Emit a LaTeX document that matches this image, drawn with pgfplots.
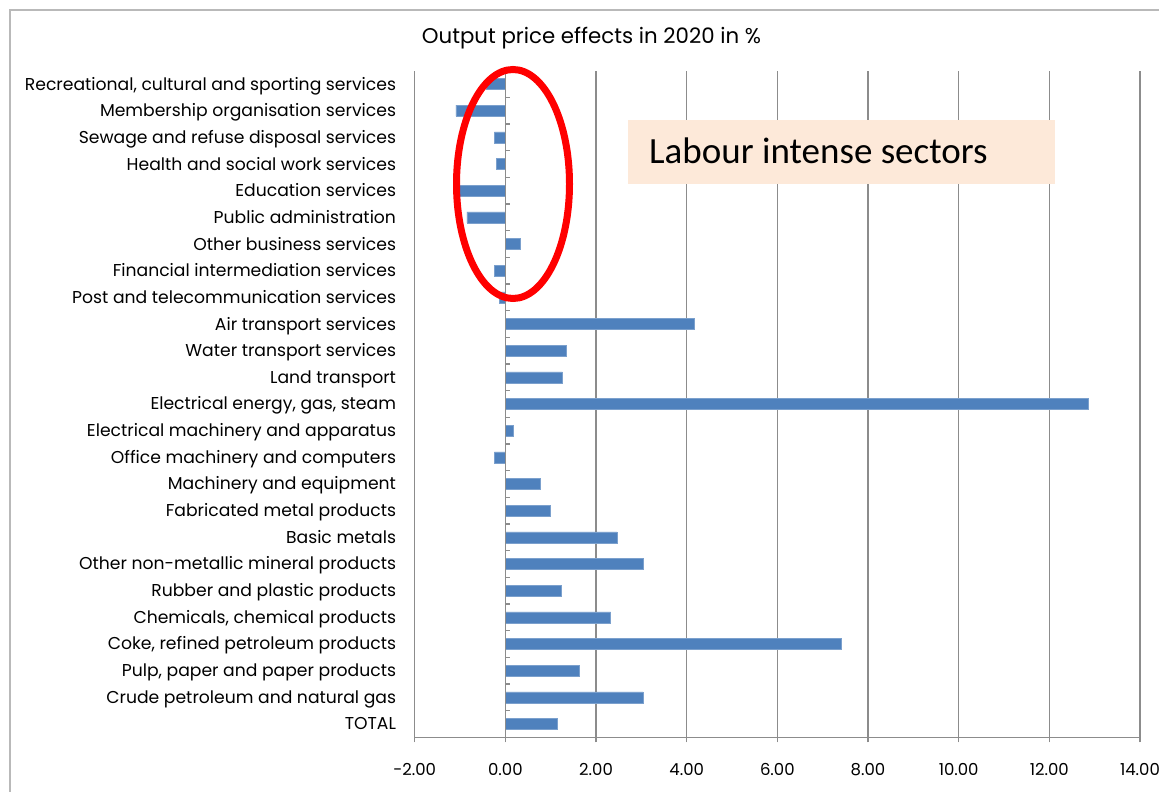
\documentclass[border=0pt]{standalone}
\usepackage{pgfplots}
\pgfplotsset{compat=1.18}
\usepackage{fontspec}
\setmainfont{Poppins}
\newfontfamily\calibri{Carlito}
\definecolor{barblue}{HTML}{4F81BD}
\definecolor{gridgray}{HTML}{8C8C8C}
\definecolor{peach}{HTML}{FDE9D9}
\begin{document}
\begin{tikzpicture}[x=1pt,y=1pt]
\useasboundingbox (0,0) rectangle (1159,792);
\fill[white] (0,0) rectangle (1159,792);
\draw[gray!55, line width=1.5pt] (10,-5) -- (10,782) -- (1170,782);
\begin{axis}[
  at={(414.7pt,54.7pt)}, anchor=south west,
  scale only axis, width=725.3pt, height=666.6pt,
  xmin=-2, xmax=14, ymin=-0.5, ymax=24.5,
  xbar, bar width=11pt,
  axis x line*=bottom, axis y line*=left,
  y axis line style={draw=none},
  xtick={-2,0,2,4,6,8,10,12,14},
  xticklabels={-2.00,0.00,2.00,4.00,6.00,8.00,10.00,12.00,14.00},
  xmajorgrids, major grid style={gridgray, line width=1.2pt},
  x axis line style={gridgray, line width=1.2pt},
  xtick style={gridgray, line width=1.2pt}, tick align=outside, major tick length=5pt,
  ytick={0,...,24}, ytick style={draw=none},
  yticklabels={TOTAL,
    Crude petroleum and natural gas,
    {Pulp, paper and paper products},
    {Coke, refined petroleum products},
    {Chemicals, chemical products},
    Rubber and plastic products,
    Other non-metallic mineral products,
    Basic metals,
    Fabricated metal products,
    Machinery and equipment\ ,
    Office machinery and computers,
    Electrical machinery and apparatus\ ,
    {Electrical energy, gas, steam\ },
    Land transport,
    Water transport services,
    Air transport services,
    Post and telecommunication services,
    Financial intermediation services,
    Other business services,
    Public administration\ ,
    Education services,
    Health and social work services,
    Sewage and refuse disposal services,
    Membership organisation services,
    {Recreational, cultural and sporting services}},
  yticklabel style={anchor=base east, inner sep=0pt, xshift=-13.5pt, yshift=-6pt, font=\fontsize{17.2}{20}\selectfont},
  xticklabel style={anchor=base, inner sep=0pt, yshift=-33pt, font=\fontsize{16.5}{19}\selectfont},
  clip=false,
]
\addplot[fill=barblue, draw=barblue!75!white, line width=0.6pt] coordinates {
(1.14,0) (3.04,1) (1.62,2) (7.42,3) (2.32,4) (1.23,5) (3.04,6) (2.46,7)
(1.00,8) (0.78,9) (-0.24,10) (0.18,11) (12.87,12) (1.26,13) (1.35,14) (4.16,15)
(-0.13,16) (-0.24,17) (0.32,18) (-0.85,19) (-1.01,20) (-0.19,21) (-0.24,22) (-1.09,23) (-0.42,24)
};
\draw[gridgray, line width=1.2pt] (axis cs:0,-0.5) -- (axis cs:0,24.5);
\pgfplotsinvokeforeach{0,...,23}{
  \draw[gridgray, line width=1.2pt] (axis cs:0,#1.5) -- ([xshift=5pt]axis cs:0,#1.5);
}
\end{axis}
\node[font=\fontsize{21.3}{24}\selectfont] at (591.5,754) {Output price effects in 2020 in \%};
\fill[peach] (628.3,607.7) rectangle (1055,672);
\node[anchor=base west, inner sep=0pt, font=\calibri\fontsize{37}{42}\selectfont] at (649,628) {Labour intense sectors};
\draw[red, line width=7pt] (513,608) ellipse [x radius=56.5, y radius=114.5];
\end{tikzpicture}
\end{document}
